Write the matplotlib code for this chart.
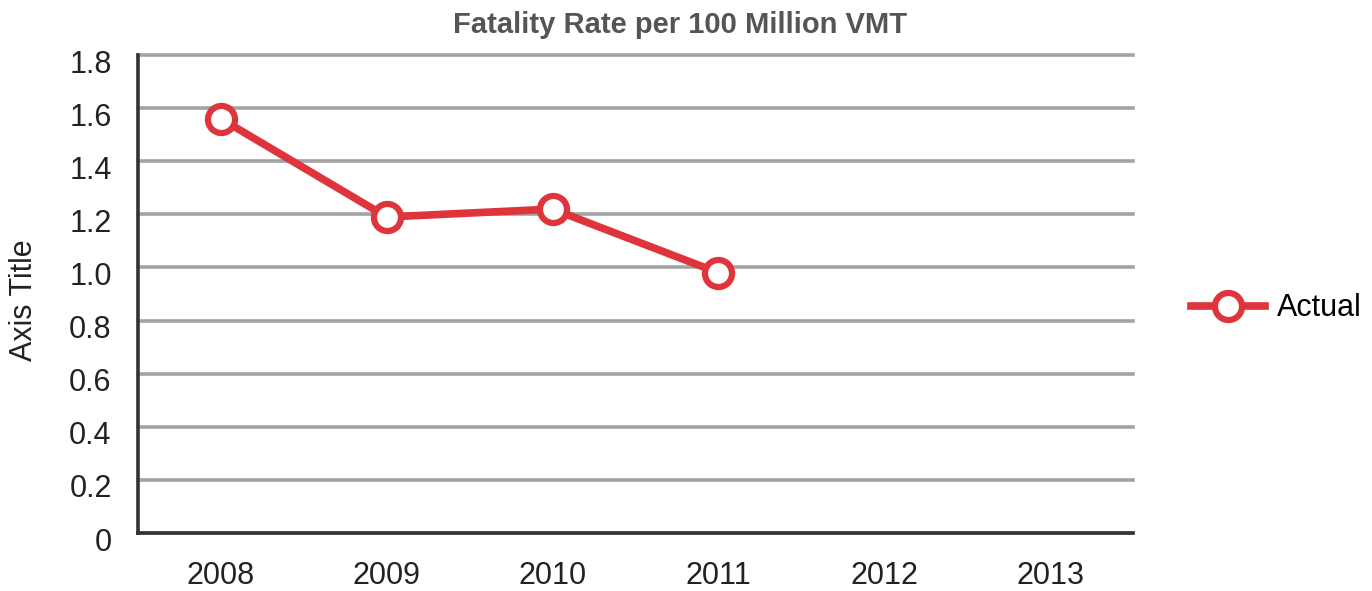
import matplotlib.pyplot as plt
import matplotlib.transforms as mtransforms

# 数据
years = ['2008', '2009', '2010', '2011', '2012', '2013']
actual_years = ['2008', '2009', '2010', '2011']
actual_values = [1.56, 1.19, 1.22, 0.98]
y_ticks = [0, 0.2, 0.4, 0.6, 0.8, 1.0, 1.2, 1.4, 1.6, 1.8]
y_tick_labels = ['0', '0.2', '0.4', '0.6', '0.8', '1.0', '1.2', '1.4', '1.6', '1.8']

plt.rcParams['font.family'] = ['Liberation Sans', 'DejaVu Sans']

fig = plt.figure(figsize=(13.72, 5.91), dpi=100)
ax = fig.add_axes([0.1006, 0.0981, 0.7252, 0.8088])

x_pos = {y: i for i, y in enumerate(years)}
red = '#e0343c'
ax.plot([x_pos[y] for y in actual_years], actual_values, color=red, linewidth=5.5,
        marker='o', markersize=19.5, markerfacecolor='white', markeredgecolor=red,
        markeredgewidth=4.5, label='Actual', zorder=3)

ax.set_xlim(-0.5, len(years) - 0.5)
ax.set_ylim(0, 1.8)
ax.set_xticks(range(len(years)))
ax.set_xticklabels(years)
ax.set_yticks(y_ticks)
ax.set_yticklabels(y_tick_labels)
ax.tick_params(axis='both', length=0, labelsize=22, colors='#222222')
ax.tick_params(axis='y', pad=19)
ax.tick_params(axis='x', pad=20)

# y轴标签稍微往下偏一点
offset = mtransforms.ScaledTranslation(0, -6 / 100, fig.dpi_scale_trans)
for lbl in ax.get_yticklabels():
    lbl.set_transform(lbl.get_transform() + offset)

ax.grid(axis='y', color='#a3a3a3', linewidth=2.6)
for gl in ax.get_ygridlines():
    gl.set_clip_on(False)
ax.set_axisbelow(True)
for s in ['top', 'right']:
    ax.spines[s].set_visible(False)
for s in ['left', 'bottom']:
    ax.spines[s].set_color('#333333')
    ax.spines[s].set_linewidth(2.6)

fig.text(24 / 1372, 1 - 300 / 591, 'Axis Title', rotation=90, fontsize=22,
         color='#222222', ha='center', va='center')
ax.set_title('Fatality Rate per 100 Million VMT', fontsize=21, fontweight='bold',
             color='#555555', pad=16, x=0.545)

ax.legend(loc='center left', bbox_to_anchor=(1.031, 0.47), frameon=False,
          fontsize=22, handlelength=2.4, handletextpad=0.4)

fig.savefig('out.png', dpi=100)
